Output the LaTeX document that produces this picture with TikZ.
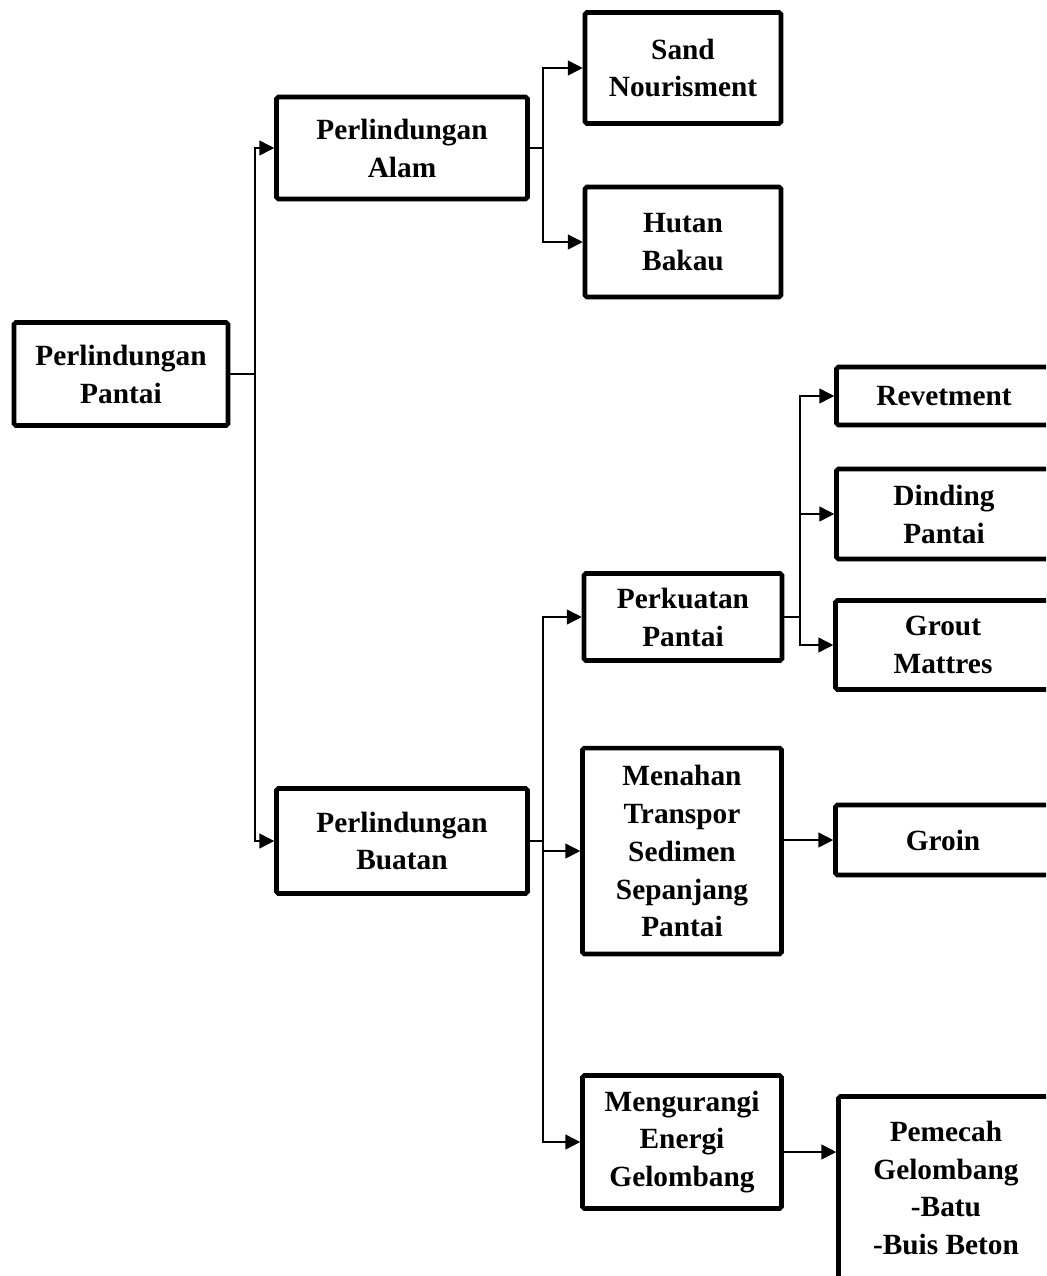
\documentclass[tikz,border=0pt]{standalone}
\usepackage{fontspec}
\setmainfont{Liberation Serif}
\usetikzlibrary{arrows.meta}
\usetikzlibrary{positioning}

\begin{document}
\begin{tikzpicture}[x=0.02cm,y=-0.02cm,
    box/.style={draw,line width=2.6pt,rounded corners=1pt,align=center,inner sep=0pt,
      font=\fontsize{16.7}{21.6}\selectfont\bfseries},
    side box/.style={box,minimum width=4.3cm},
    link/.style={-{Triangle[length=8.5pt,width=8.5pt]},line width=0.9pt},
    stub/.style={-,line width=0.9pt}]
  \useasboundingbox (0,0) rectangle (1046,1276);
  \clip (0,0) rectangle (1046,1276);
  % level 0 and 1
  \node[box,minimum width=4.28cm,minimum height=2.06cm] (pantai) at (121,374) {Perlindungan\\Pantai};
  \node[box,minimum width=5.02cm,minimum height=2.04cm] (alam) at (402,148) {Perlindungan\\Alam};
  \node[box,minimum width=5.02cm,minimum height=2.1cm] (buatan) at (402,841) {Perlindungan\\Buatan};
  % level 2
  \node[box,minimum width=3.92cm,minimum height=2.22cm] (sand) at (683,68) {Sand\\Nourisment};
  \node[box,minimum width=3.92cm,minimum height=2.2cm] (hutan) at (683,242) {Hutan\\Bakau};
  \node[box,minimum width=3.96cm,minimum height=1.74cm] (perkuatan) at (683,617) {Perkuatan\\Pantai};
  \node[box,minimum width=3.98cm,minimum height=4.12cm] (menahan) at (682,851) {Menahan\\Transpor\\Sedimen\\Sepanjang\\Pantai};
  \node[box,minimum width=3.98cm,minimum height=2.66cm] (mengurangi) at (682,1142) {Mengurangi\\Energi\\Gelombang};
  % level 3
  \node[side box,minimum height=1.16cm] (revetment) at (944,396) {Revetment};
  \node[side box,minimum height=1.8cm] (dinding) at (944,514) {Dinding\\Pantai};
  \node[side box,minimum height=1.78cm] (grout) at (943,645) {Grout\\Mattres};
  \node[side box,minimum height=1.4cm] (groin) at (943,840) {Groin};
  \node[side box,minimum height=3.66cm] (pemecah) at (946,1188) {Pemecah\\Gelombang\\-Batu\\-Buis Beton};
  % junctions
  \coordinate (j0) at (255,374);
  \coordinate (j1) at (543,148);
  \coordinate (j2) at (543,841);
  \coordinate (j3) at (800,617);
  % connectors
  \path[stub] (pantai.east) edge (j0);
  \draw[link] (j0) |- (alam.west);
  \draw[link] (j0) |- (buatan.west);
  \path[stub] (alam.east) edge (j1);
  \draw[link] (j1) |- (sand.west);
  \draw[link] (j1) |- (hutan.west);
  \path[stub] (buatan.east) edge (j2);
  \draw[link] (j2) |- (perkuatan.west);
  \draw[link] (j2) |- (menahan.west);
  \draw[link] (j2) |- (mengurangi.west);
  \path[stub] (perkuatan.east) edge (j3);
  \draw[link] (j3) |- (revetment.west);
  \draw[link] (j3) |- (dinding.west);
  \draw[link] (j3) |- (grout.west);
  \draw[link] (menahan.east |- groin.west) -- (groin.west);
  \draw[link] ([yshift=-0.2cm]mengurangi.east) -- ([yshift=-0.2cm]mengurangi.east -| pemecah.west);
\end{tikzpicture}
\end{document}
